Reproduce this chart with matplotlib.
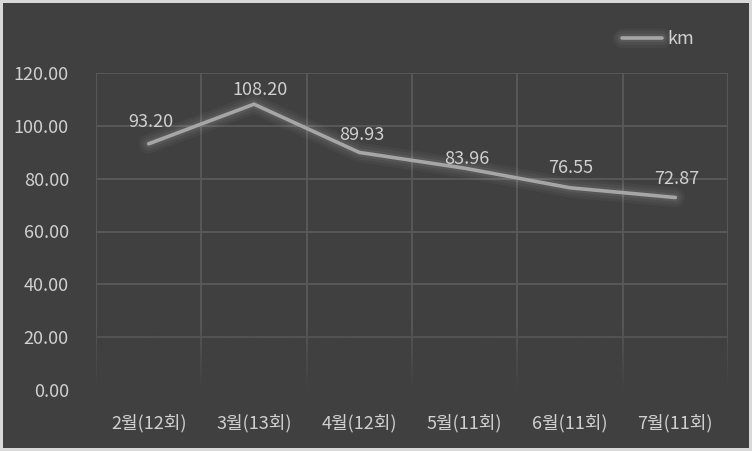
import matplotlib

matplotlib.use("Agg")
import matplotlib.pyplot as plt
import matplotlib.patheffects as pe
import numpy as np
from matplotlib.colors import to_rgb

plt.rcParams["font.family"] = ["Noto Sans CJK KR", "DejaVu Sans"]

months = ["2월(12회)", "3월(13회)", "4월(12회)", "5월(11회)", "6월(11회)", "7월(11회)"]
km = [93.20, 108.20, 89.93, 83.96, 76.55, 72.87]
y_ticks = [0, 20, 40, 60, 80, 100, 120]

# label nudges (points) as placed in the original
label_dx = [1.4, 4.3, 1.4, 1.4, 0.7, 0.7]
label_dy = [15.8, 10.5, 12.2, 6.5, 14.4, 13.0]

BG = "#404040"
GRID = "#5a5a5a"
LINE = "#a6a6a6"
TEXT = "#d0d0d0"

fig = plt.figure(figsize=(7.52, 4.51), dpi=100)
fig.patch.set_facecolor(BG)
fig.patch.set_edgecolor("#d9d9d9")
fig.patch.set_linewidth(3)
ax = fig.add_axes([96 / 752, 1 - 390 / 451, 632 / 752, 317 / 451])
ax.set_facecolor(BG)

x = np.arange(len(months))

# grid: category borders + value lines
for yv in y_ticks[1:]:
    ax.axhline(yv, color=GRID, lw=1.3, zorder=1)
for xv in np.arange(-0.5, len(months), 1.0):
    ax.axvline(xv, color=GRID, lw=1.3, zorder=1)

# fade grid towards the bottom
r, g, b = to_rgb(BG)
grad = np.zeros((200, 1, 4))
grad[..., 0], grad[..., 1], grad[..., 2] = r, g, b
grad[:, 0, 3] = np.clip(np.linspace(1.0, -0.6, 200), 0, 0.95)
ax.imshow(grad, extent=(-0.5, len(months) - 0.5, 0, 40), aspect="auto",
          origin="lower", zorder=2)
ax.set_xlim(-0.5, len(months) - 0.5)
ax.set_ylim(0, 120)

glow = [pe.Stroke(linewidth=14, foreground="#ffffff", alpha=0.035),
        pe.Stroke(linewidth=10, foreground="#ffffff", alpha=0.045),
        pe.Stroke(linewidth=6, foreground="#ffffff", alpha=0.06),
        pe.Normal()]
ax.plot(x, km, color=LINE, lw=2.6, solid_capstyle="round", zorder=4,
        path_effects=glow, label="km")

for xi, v, dx, dy in zip(x, km, label_dx, label_dy):
    ax.annotate(f"{v:.2f}", (xi, v), xytext=(dx, dy), textcoords="offset points",
                ha="center", va="center", color=TEXT, fontsize=13, zorder=5)

ax.set_xticks(x)
ax.set_xticklabels(months)
ax.set_yticks(y_ticks)
ax.set_yticklabels([f"{v:.2f}" for v in y_ticks])
ax.tick_params(axis="x", length=0, pad=17, colors=TEXT, labelsize=13)
ax.tick_params(axis="y", length=0, pad=19.5, colors=TEXT, labelsize=13)
for s in ax.spines.values():
    s.set_visible(False)

ax.legend(loc="upper right", bbox_to_anchor=(710 / 752, 1 - 14 / 451),
          bbox_transform=fig.transFigure, frameon=False, fontsize=13,
          labelcolor=TEXT, handlelength=2.2, handletextpad=0.3)

fig.savefig("out.png", dpi=100, facecolor=BG, edgecolor=fig.get_edgecolor())
